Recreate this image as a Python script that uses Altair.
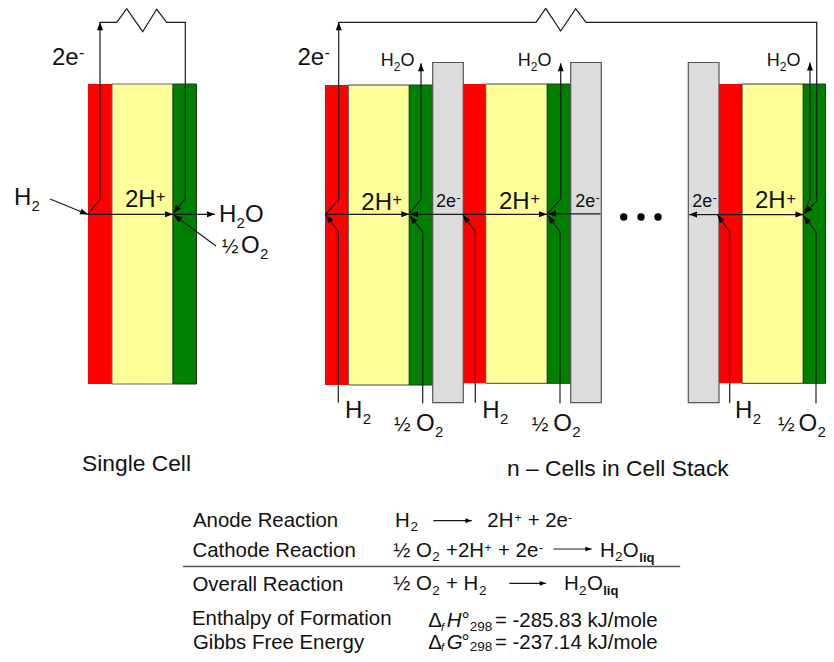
import math
import altair as alt
import pandas as pd

FONT = "Liberation Sans"
RED, YEL, GRN, GRY = "#ff0000", "#ffff99", "#008000", "#dcdcdc"

# (x0, x1, y0, y1, fill, stroke, stroke width)
cell_single = [(88, 112, 84, 384, RED, RED, 0), (112, 173, 84, 384, YEL, "#666", 1), (173, 196.5, 84, 384, GRN, "#1c3a1c", 1)]
cell_1 = [(325, 348.3, 85, 385, RED, RED, 0), (348.3, 409.3, 85, 385, YEL, "#444", 1), (409.3, 432.7, 85, 385, GRN, "#1c3a1c", 1)]
plate_1 = [(432.7, 463.3, 62.5, 402.7, GRY, "#555", 1.2)]
cell_2 = [(463.3, 485.7, 84, 383.3, RED, RED, 0), (485.7, 547.3, 84, 383.3, YEL, "#444", 1), (547.3, 570.7, 84, 383.3, GRN, "#1c3a1c", 1)]
plate_2 = [(570.7, 601.3, 62.5, 402.7, GRY, "#555", 1.2)]
plate_3 = [(688.3, 719, 62.5, 402.7, GRY, "#555", 1.2)]
cell_3 = [(719, 742, 84, 383.3, RED, RED, 0), (742, 803.3, 84, 383.3, YEL, "#333", 1), (803.3, 825.5, 84, 383.3, GRN, "#1c3a1c", 1)]
rule_row = [(183.3, 680, 566, 566.9, "#555", "#555", 0.6)]

# (points, arrow head at the end: 0 none / else head size)
LARGE, SMALL = 64, 40
lines_single = [
    ([(88, 214.3), (100, 199.3), (100, 22.3)], LARGE),
    ([(100, 22.3), (116.7, 22.3), (126.7, 8.7), (142.7, 31.7), (156.7, 9.3), (166.7, 22.3), (185.3, 22.3), (185.3, 198.7), (173.5, 213)], LARGE),
    ([(50, 199), (88, 214.5)], LARGE),
    ([(88, 214.3), (173, 214.3)], LARGE),
    ([(173, 214.3), (215, 214.3)], LARGE),
    ([(216, 246), (174, 215)], LARGE),
]
lines_stack1 = [
    ([(325.5, 214.3), (338.7, 199.3), (338.7, 22.3)], LARGE),
    ([(338.3, 402.7), (338.3, 231.7), (326, 215)], LARGE),
    ([(325, 214.3), (409.3, 214.3)], LARGE),
    ([(463, 214.3), (410, 214.3)], LARGE),
    ([(409.5, 213.3), (421, 199.3), (421, 63.3)], LARGE),
    ([(422.7, 403.3), (422.7, 231.7), (410, 216)], LARGE),
]
lines_stack2 = [
    ([(475.3, 402.7), (475.3, 231.7), (463, 215)], LARGE),
    ([(463.3, 214.3), (547, 214.3)], LARGE),
    ([(600.5, 213.8), (548, 213.8)], LARGE),
    ([(547.5, 213.3), (560.7, 199.3), (560.7, 63.3)], LARGE),
    ([(560, 403.3), (560, 231.7), (548, 215.5)], LARGE),
]
lines_stack3 = [
    ([(338.7, 22.3), (536, 22.3), (545.7, 8.3), (560.7, 31), (575.7, 8.7), (586, 22.3), (816.7, 22.3), (816.7, 201), (804.5, 213.5)], LARGE),
    ([(719, 214.6), (689, 214.6)], LARGE),
    ([(719, 214.6), (803.5, 214.6)], LARGE),
    ([(729.7, 403.3), (729.7, 231.7), (717.5, 215)], LARGE),
    ([(816, 403.3), (816, 231.7), (803.6, 216)], LARGE),
    ([(804, 213), (810, 199), (810, 62.5)], LARGE),
]
lines_eq = [
    ([(433.3, 520.7), (471.7, 520.7)], SMALL),
    ([(553.3, 549), (591.7, 549)], SMALL),
    ([(509.3, 583.3), (546, 583.3)], SMALL),
]

dots_x = [623.7, 641, 658]
dots_y = [217, 217, 217]

# (x, baseline y, text, font size)
B, S, M, H_ = 24, 15, 18, 20
text_single = [
    (52, 65, "2e", B), (79, 58, "-", 16),
    (14, 205, "H", B), (31.5, 211, "2", S),
    (125, 207, "2H", B), (156, 202, "+", 16),
    (219, 222, "H", B), (236.5, 228, "2", S), (245, 222, "O", B),
    (221.7, 252.7, "½", H_), (241, 252.7, "O", B), (260, 258.5, "2", S),
    (82, 471, "Single Cell", 22.8),
]
text_stack_top = [
    (297.5, 65, "2e", B), (324.5, 58, "-", 16),
    (380.7, 66, "H", M), (393.8, 71, "2", 12), (400.5, 66, "O", M),
    (517.7, 66, "H", M), (530.8, 71, "2", 12), (537.5, 66, "O", M),
    (766.7, 66, "H", M), (779.8, 71, "2", 12), (786.5, 66, "O", M),
]
text_stack_mid = [
    (361.3, 210, "2H", B), (392.5, 205, "+", 16),
    (499, 208.5, "2H", B), (530.5, 203.5, "+", 16),
    (755, 208.3, "2H", B), (786.5, 203.5, "+", 16),
    (436, 207, "2e", M), (456.5, 202, "-", 12),
    (575.3, 207, "2e", M), (595.8, 202, "-", 12),
    (692.3, 207, "2e", M), (712.8, 202, "-", 12),
]
text_stack_bot = [
    (345, 418.3, "H", B), (362.7, 424, "2", S),
    (482.3, 418.3, "H", B), (500, 424, "2", S),
    (735, 418.3, "H", B), (752.7, 424, "2", S),
    (394, 430.7, "½", H_), (416, 430.7, "O", B), (435, 436.7, "2", S),
    (531.7, 430.7, "½", H_), (553.3, 430.7, "O", B), (572.3, 436.7, "2", S),
    (778, 430.7, "½", H_), (798.5, 430.7, "O", B), (817.5, 436.7, "2", S),
    (507, 476, "n – Cells in Cell Stack", 22.8),
]
E, ES = 20.4, 13.5
text_labels = [
    (193, 527.3, "Anode Reaction", E),
    (192.5, 556.7, "Cathode Reaction", E),
    (192.5, 590.7, "Overall Reaction", E),
    (192, 625, "Enthalpy of Formation", E),
    (193, 648.5, "Gibbs Free Energy", E),
]
text_eq1 = [
    (395, 527.3, "H", E), (410.5, 531, "2", ES),
    (487.3, 527.3, "2H", E), (514.5, 522, "+", 12),
    (527.7, 527.3, "+ 2e", E), (568, 522, "-", 12),
]
text_eq2 = [
    (393.3, 556.7, "½", E), (416, 556.7, "O", E), (432.2, 561, "2", ES),
    (446, 556.7, "+2H", E), (484.5, 551.5, "+", 12), (498, 556.7, "+ 2e", E), (539, 551.5, "-", 12),
    (600, 556.7, "H", E), (615, 561, "2", ES), (622.7, 556.7, "O", E),
]
text_eq3 = [
    (393.3, 590, "½", E), (416, 590, "O", E), (432.2, 594.5, "2", ES),
    (446, 590, "+ H", E), (479, 594.5, "2", ES),
    (564, 590, "H", E), (579, 594.5, "2", ES), (587, 590, "O", E),
]
text_eq45 = [
    (428.3, 627, "Δ", E), (461.5, 627, "°", E), (469.7, 631, "298", ES), (495, 627, "= -285.83 kJ/mole", E),
    (428.3, 648.5, "Δ", E), (461.5, 648.5, "°", E), (469.7, 651, "298", ES), (495, 648.5, "= -237.14 kJ/mole", E),
]
text_bold = [
    (639.3, 561.5, "liq", 13), (603.2, 595, "liq", 13),
]
text_italic = [
    (441, 631, "f", 11), (446.7, 627, "H", E),
    (441, 651, "f", 11), (446.7, 648.5, "G", E),
]

rect_df = pd.DataFrame(
    cell_single + cell_1 + plate_1 + cell_2 + plate_2 + plate_3 + cell_3 + rule_row,
    columns=["x", "x2", "y", "y2", "fill", "stroke", "sw"],
)
rect_df["o"] = range(len(rect_df))

line_rows, head_rows = [], []
for lid, (pts, head) in enumerate(lines_single + lines_stack1 + lines_stack2 + lines_stack3 + lines_eq):
    for i, (px, py) in enumerate(pts):
        line_rows.append({"id": lid, "i": i, "x": px, "y": py})
    (ax, ay), (bx, by) = pts[-2], pts[-1]
    head_rows.append({"x": bx, "y": by, "size": head,
                      "angle": math.degrees(math.atan2(bx - ax, -(by - ay))) % 360})
line_df = pd.DataFrame(line_rows)
head_df = pd.DataFrame(head_rows)
dot_df = pd.DataFrame({"x": dots_x, "y": dots_y})

cols = ["x", "y", "text", "size"]
normal_df = pd.DataFrame(
    text_single + text_stack_top + text_stack_mid + text_stack_bot + text_labels + text_eq1 + text_eq2 + text_eq3 + text_eq45,
    columns=cols,
)
bold_df = pd.DataFrame(text_bold, columns=cols)
italic_df = pd.DataFrame(text_italic, columns=cols)

W, H = 818, 646
xs = alt.Scale(domain=[8, 826], nice=False, zero=False)
ys = alt.Scale(domain=[8, 654], nice=False, zero=False, reverse=True)
X = alt.X("x:Q", scale=xs, axis=None)
Y = alt.Y("y:Q", scale=ys, axis=None)

rects = alt.Chart(rect_df).mark_rect(opacity=1).encode(
    X, alt.X2("x2:Q"), Y, alt.Y2("y2:Q"),
    fill=alt.Fill("fill:N", scale=None),
    stroke=alt.Stroke("stroke:N", scale=None),
    strokeWidth=alt.StrokeWidth("sw:Q", scale=None),
    order=alt.Order("o:Q"),
)
lines = alt.Chart(line_df).mark_line(color="#1a1a1a", strokeWidth=1.2, strokeJoin="miter").encode(
    X, Y, detail="id:N", order="i:Q",
)
heads = alt.Chart(head_df).mark_point(
    shape="M0,0L-0.75,2L0.75,2Z", filled=True, color="#000", opacity=1, strokeWidth=0,
).encode(
    X, Y,
    size=alt.Size("size:Q", scale=None),
    angle=alt.Angle("angle:Q", scale=None),
)
dots = alt.Chart(dot_df).mark_circle(color="#000", size=55, opacity=1).encode(X, Y)


def text_layer(df, **kw):
    return alt.Chart(df).mark_text(
        font=FONT, align="left", baseline="alphabetic", color="#111", **kw
    ).encode(X, Y, text="text:N", size=alt.Size("size:Q", scale=None))


chart = alt.layer(
    rects, lines, heads, dots,
    text_layer(normal_df),
    text_layer(bold_df, fontWeight="bold"),
    text_layer(italic_df, fontStyle="italic"),
).properties(
    width=W, height=H, padding=0, autosize=alt.AutoSizeParams(type="none"),
    background="white",
).configure_view(stroke=None)

chart.save("out.html", embed_options={"renderer": "svg", "actions": False})
